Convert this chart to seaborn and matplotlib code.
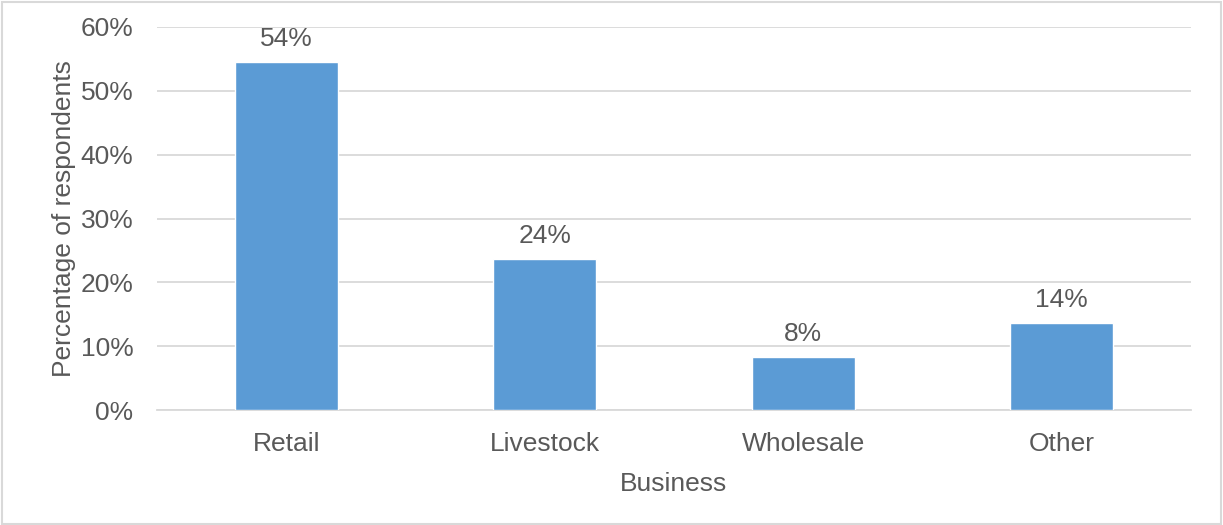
import matplotlib
matplotlib.use("Agg")
import matplotlib.pyplot as plt
import seaborn as sns
import pandas as pd

# Share of respondents by type of business
categories = ["Retail", "Livestock", "Wholesale", "Other"]
shares = [54.5, 23.7, 8.3, 13.6]
y_ticks = [0, 10, 20, 30, 40, 50, 60]
y_tick_labels = ["0%", "10%", "20%", "30%", "40%", "50%", "60%"]

df = pd.DataFrame({"Business": categories, "Share": shares})

sns.set_theme(style="white")
plt.rcParams["font.family"] = ["Liberation Sans", "DejaVu Sans"]

text_color = "#595959"
grid_color = "#D9D9D9"
bar_color = "#5B9BD5"
fs = 19

fig = plt.figure(figsize=(12.23, 5.25), dpi=100)
ax = fig.add_axes([157 / 1223, 1 - 410 / 525, (1191 - 157) / 1223, (410 - 27) / 525])

sns.barplot(data=df, x="Business", y="Share", color=bar_color, width=0.4,
            saturation=1, ax=ax, zorder=3)

ax.set_ylim(0, 60)
ax.set_xlim(-0.5, len(categories) - 0.5)
ax.set_yticks(y_ticks)
ax.set_yticklabels(y_tick_labels)
ax.yaxis.grid(True, color=grid_color, linewidth=1.3, zorder=0)
ax.set_axisbelow(True)
for side in ["top", "right", "left"]:
    ax.spines[side].set_visible(False)
ax.spines["bottom"].set_color(grid_color)
ax.spines["bottom"].set_linewidth(1.3)
ax.tick_params(axis="both", length=0, labelsize=fs, colors=text_color)
ax.tick_params(axis="y", pad=17)
ax.tick_params(axis="x", pad=15.5)

ax.set_xlabel("Business", fontsize=fs, color=text_color, labelpad=12)
ax.set_ylabel("Percentage of respondents", fontsize=fs, color=text_color, labelpad=3)

for container in ax.containers:
    ax.bar_label(container, labels=[f"{v:.0f}%" for v in shares],
                 fontsize=fs, color=text_color, padding=8)

# Light frame around the whole figure
fig.patches.append(plt.Rectangle((0.002, 0.002), 0.996, 0.994, transform=fig.transFigure,
                                 fill=False, edgecolor=grid_color, linewidth=1.5))

fig.savefig("out.png", dpi=100, facecolor="white")
